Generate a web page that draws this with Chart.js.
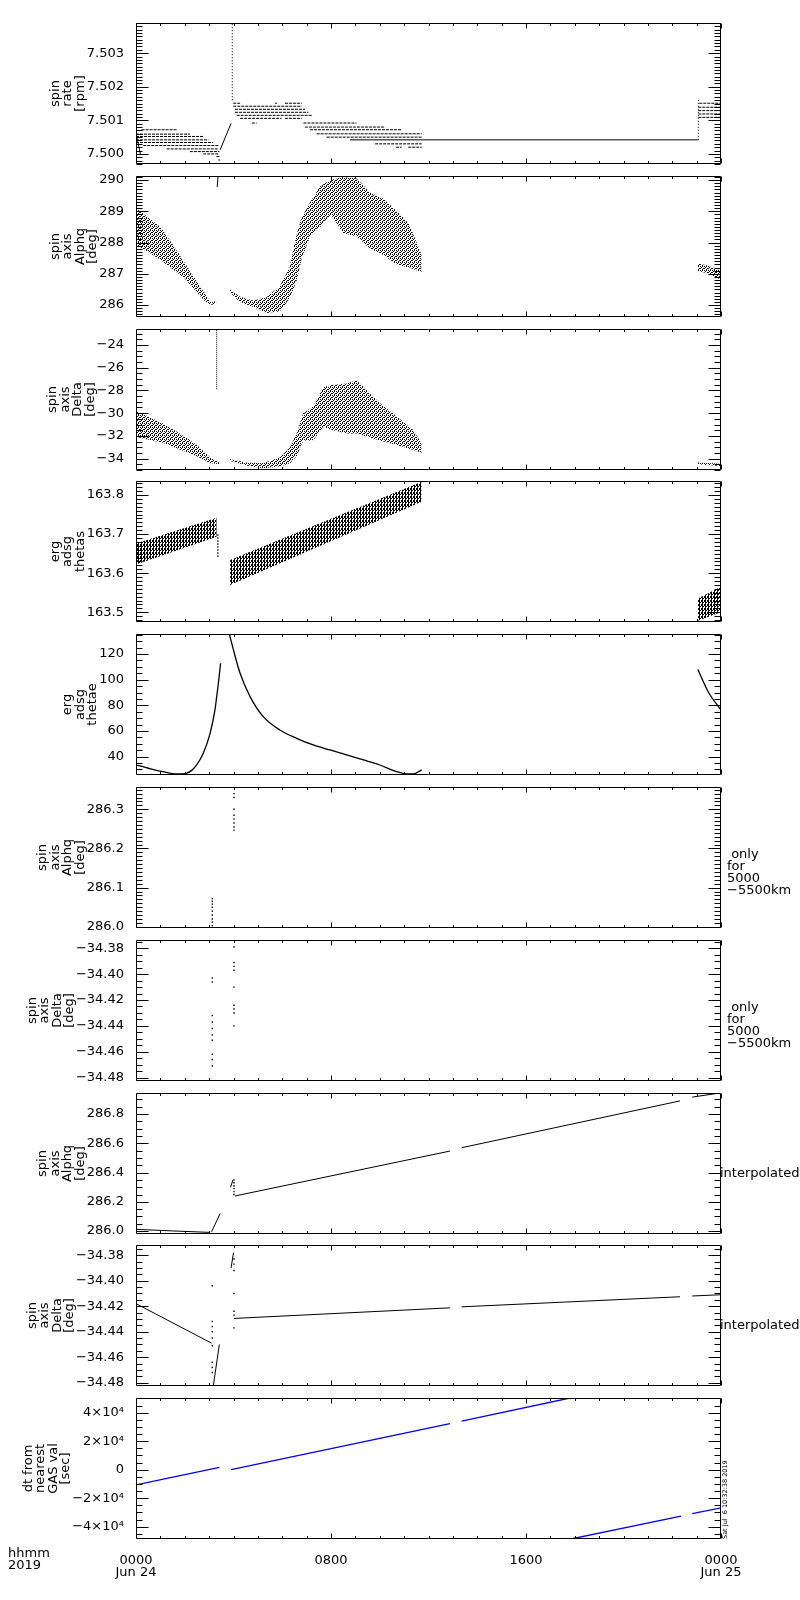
<!DOCTYPE html>
<html>
<head>
<meta charset="utf-8">
<script src="https://cdn.jsdelivr.net/npm/chart.js@4.4.0/dist/chart.umd.min.js"></script>
<style>
    html, body { margin: 0; padding: 0; background: #fff; }
    #page { position: relative; width: 800px; height: 1600px; overflow: hidden;
            font-family: "DejaVu Sans", sans-serif; color: #000; }
    #page canvas { position: absolute; left: 0; }
    .note { position: absolute; font-size: 13px; line-height: 12px; white-space: pre; }
    .stamp { position: absolute; font-size: 6.5px; line-height: 6px; white-space: pre;
             transform-origin: 0 0; transform: rotate(-90deg); }
</style>
</head>
<body>
<div id="page"></div>
<script>
/* ===========================
   TIME AXIS (hours from 0000 Jun 24 2019)
=========================== */

const hourTicks = [0, 8, 16, 24];
const hourLabels = [["0000", "Jun 24"], ["0800"], ["1600"], ["0000", "Jun 25"]];
const yearLabel = "hhmm\n2019";
const stampText = "Sat Jul  6 10:32:38 2019";

/* ===========================
   PANEL TITLES / Y TICKS
=========================== */

const panelTitles = [
    ["spin", "rate", "[rpm]"],
    ["spin", "axis", "Alphq", "[deg]"],
    ["spin", "axis", "Delta", "[deg]"],
    ["erg", "adsg", "thetas"],
    ["erg", "adsg", "thetae"],
    ["spin", "axis", "Alphq", "[deg]"],
    ["spin", "axis", "Delta", "[deg]"],
    ["spin", "axis", "Alphq", "[deg]"],
    ["spin", "axis", "Delta", "[deg]"],
    ["dt from", "nearest", "GAS val", "[sec]"]
];

const yRanges = [
    [7.4997, 7.5039], [285.62, 290.13], [-35.0, -22.6], [163.475, 163.836], [25.7, 135.6],
    [285.997, 286.357], [-34.4826, -34.3736], [285.98, 286.944], [-34.4826, -34.372], [-48600, 50300]
];

const yTicks = [
    [7.500, 7.501, 7.502, 7.503],
    [286, 287, 288, 289, 290],
    [-34, -32, -30, -28, -26, -24],
    [163.5, 163.6, 163.7, 163.8],
    [40, 60, 80, 100, 120],
    [286.0, 286.1, 286.2, 286.3],
    [-34.48, -34.46, -34.44, -34.42, -34.40, -34.38],
    [286.0, 286.2, 286.4, 286.6, 286.8],
    [-34.48, -34.46, -34.44, -34.42, -34.40, -34.38],
    [-40000, -20000, 0, 20000, 40000]
];

const yTickLabels = [
    ["7.500", "7.501", "7.502", "7.503"],
    ["286", "287", "288", "289", "290"],
    ["\u221234", "\u221232", "\u221230", "\u221228", "\u221226", "\u221224"],
    ["163.5", "163.6", "163.7", "163.8"],
    ["40", "60", "80", "100", "120"],
    ["286.0", "286.1", "286.2", "286.3"],
    ["\u221234.48", "\u221234.46", "\u221234.44", "\u221234.42", "\u221234.40", "\u221234.38"],
    ["286.0", "286.2", "286.4", "286.6", "286.8"],
    ["\u221234.48", "\u221234.46", "\u221234.44", "\u221234.42", "\u221234.40", "\u221234.38"],
    ["\u22124\u00d710\u2074", "\u22122\u00d710\u2074", "0", "2\u00d710\u2074", "4\u00d710\u2074"]
];

const yMinorStep = [0.0001, 0.1, 0.5, 0.01, 5, 0.01, 0.005, 0.05, 0.005, 5000];

const sideNotes = [null, null, null, null, null,
    " only\nfor\n5000\n\u22125500km", " only\nfor\n5000\n\u22125500km",
    "interpolated", "interpolated", null];

/* ===========================
   PANEL 1 - SPIN RATE [rpm]
=========================== */

// quantised levels: [value, t start, t end]
const rateLevels = [
    [7.50072, 0.23, 1.67], [7.50059, 0.00, 2.21], [7.50052, 0.00, 2.76], [7.50042, 0.00, 2.97],
    [7.50034, 0.00, 3.17], [7.50025, 0.30, 3.38], [7.50015, 1.26, 3.38], [7.50007, 2.21, 3.42],
    [7.50000, 2.76, 3.42], [7.49992, 3.30, 3.45], [7.49982, 3.38, 3.45],
    [7.50151, 3.99, 4.27], [7.50151, 5.70, 5.78], [7.50151, 6.11, 6.80],
    [7.50142, 3.99, 6.80], [7.50133, 4.06, 6.93], [7.50124, 4.06, 7.07],
    [7.50115, 4.13, 7.21], [7.50106, 4.27, 5.97], [7.50106, 6.11, 6.80],
    [7.50092, 4.75, 4.95], [7.50092, 6.87, 9.05], [7.50080, 6.93, 10.22],
    [7.50072, 7.14, 10.90], [7.50060, 7.41, 11.72], [7.50050, 7.82, 11.72],
    [7.50030, 9.81, 11.72], [7.50020, 10.67, 10.90], [7.50020, 11.17, 11.72],
    [7.50151, 23.11, 24.0], [7.50139, 23.07, 24.0], [7.50129, 23.07, 24.0],
    [7.50119, 23.07, 24.0], [7.50109, 23.07, 24.0]
];
const rateHold = [[8.78, 7.50042], [23.07, 7.50042]];
const rateRamp = [[3.45, 7.50012], [3.90, 7.50091]];
const rateStart = [[0.02, 7.50055], [0.18, 7.49999]];
const rateJumpUp = [[3.95, 7.50160], [3.95, 7.50390]];
const rateJumpEnd = [[23.07, 7.50042], [23.07, 7.50161]];

/* ===========================
   PANEL 2 - SPIN AXIS ALPHA [deg]   [t, low, high]
=========================== */

const alphaCloudA = [
    [0.0, 287.9, 289.1], [0.5, 287.7, 288.8], [1.0, 287.45, 288.5], [1.5, 287.15, 287.95],
    [2.0, 286.85, 287.35], [2.5, 286.4, 286.75], [2.8, 286.15, 286.4], [3.05, 286.0, 286.1],
    [3.3, 286.05, 286.12]
];
const alphaCloudB = [
    [3.86, 286.4, 286.5], [4.27, 286.1, 286.27], [4.8, 285.95, 286.15], [5.35, 285.75, 286.25],
    [5.9, 285.8, 286.6], [6.3, 286.2, 287.2], [6.6, 286.8, 288.3], [6.8, 287.5, 288.8],
    [7.15, 288.2, 289.3], [7.55, 288.5, 289.8], [8.0, 288.9, 290.0], [8.5, 288.3, 290.1],
    [9.05, 288.2, 290.05], [9.6, 287.8, 289.6], [10.15, 287.6, 289.4], [10.7, 287.3, 289.0],
    [11.2, 287.2, 288.6], [11.72, 287.05, 287.6]
];
const alphaCloudC = [[23.05, 287.1, 287.35], [23.5, 287.0, 287.25], [24.0, 286.8, 287.1]];
const alphaSpike = [[3.33, 289.78], [3.37, 290.13]];

/* ===========================
   PANEL 3 - SPIN AXIS DELTA [deg]
=========================== */

const deltaCloudA = [
    [0.0, -32.1, -29.8], [1.1, -32.6, -30.9], [1.8, -33.2, -31.8], [2.5, -33.8, -32.8],
    [3.05, -34.4, -33.9], [3.45, -34.48, -34.38]
];
const deltaCloudB = [
    [3.86, -34.2, -34.05], [4.54, -34.6, -34.35], [5.22, -34.85, -34.4], [5.9, -34.7, -33.9],
    [6.32, -34.4, -33.0], [6.59, -33.8, -31.8], [6.86, -32.4, -30.0], [7.27, -32.4, -29.4],
    [7.68, -31.2, -27.7], [8.09, -31.5, -27.5], [8.64, -31.8, -27.4], [9.05, -31.8, -27.1],
    [10.0, -32.4, -29.1], [10.7, -32.8, -30.3], [11.38, -33.25, -31.5], [11.72, -33.5, -32.7]
];
const deltaCloudC = [[23.05, -34.5, -34.35], [24.0, -34.65, -34.45]];
const deltaSpike = [[3.31, -27.9], [3.31, -22.6]];

/* ===========================
   PANEL 4 - ERG ADSG THETAS
=========================== */

const thetasBandA = [[0.0, 163.622, 163.676], [3.31, 163.693, 163.742]];
const thetasBandB = [[3.86, 163.570, 163.634], [11.72, 163.783, 163.834]];
const thetasBandC = [[23.05, 163.478, 163.535], [24.0, 163.500, 163.565]];
const thetasDrop = [[3.36, 163.700], [3.36, 163.640]];

/* ===========================
   PANEL 5 - ERG ADSG THETAE
=========================== */

const thetaeA = [
    [0.0, 33.5], [0.16, 32.8], [0.6, 30.5], [1.1, 28.3], [1.67, 26.5], [2.08, 27.2], [2.3, 29.5],
    [2.49, 33.5], [2.76, 42.7], [3.04, 58.2], [3.24, 76.4], [3.31, 86.8], [3.38, 97.2], [3.47, 112.8]
];
const thetaeB = [
    [3.83, 135.6], [4.0, 123.0], [4.27, 105.0], [4.68, 86.8], [5.22, 71.2], [5.9, 60.8],
    [6.59, 54.3], [7.27, 49.1], [7.96, 45.2], [8.64, 41.3], [9.33, 37.4], [10.0, 33.5],
    [10.7, 28.3], [11.1, 26.5], [11.38, 26.5], [11.72, 29.7]
];
const thetaeC = [[23.05, 107.9], [23.48, 90.4], [24.0, 76.3]];

/* ===========================
   PANELS 6/7 - ONLY FOR 5000-5500 km
=========================== */

const alphaNear = [
    [3.13, 286.003], [3.13, 286.012], [3.13, 286.020], [3.13, 286.030], [3.13, 286.040],
    [3.13, 286.050], [3.13, 286.058], [3.13, 286.065], [3.13, 286.072],
    [4.02, 286.247], [4.02, 286.255], [4.02, 286.265], [4.02, 286.275], [4.02, 286.285],
    [4.02, 286.300], [4.02, 286.330], [4.02, 286.340]
];
const deltaNear = [
    [3.13, -34.403], [3.13, -34.406], [3.13, -34.432], [3.13, -34.437], [3.13, -34.442],
    [3.13, -34.447], [3.13, -34.451], [3.13, -34.462], [3.13, -34.466], [3.13, -34.471],
    [4.02, -34.379], [4.02, -34.391], [4.02, -34.394], [4.02, -34.397], [4.02, -34.410],
    [4.02, -34.424], [4.02, -34.427], [4.02, -34.430], [4.02, -34.440]
];

/* ===========================
   PANELS 8/9 - INTERPOLATED
=========================== */

const alphaInterp = [
    [[0.0, 286.012], [1.5, 286.001], [3.04, 285.991]],
    [[3.10, 285.995], [3.45, 286.120]],
    [[3.88, 286.300], [3.98, 286.350]],
    [[4.06, 286.240], [12.88, 286.547]],
    [[13.36, 286.570], [22.32, 286.890]],
    [[22.82, 286.916], [24.0, 286.945]]
];
const alphaInterpDots = [[4.02, 286.35], [4.02, 286.33], [4.02, 286.31], [4.02, 286.29], [4.02, 286.27], [4.02, 286.25]];

const deltaInterp = [
    [[0.0, -34.418], [3.10, -34.449]],
    [[3.17, -34.4826], [3.42, -34.450]],
    [[3.90, -34.390], [4.00, -34.378]],
    [[4.02, -34.4296], [12.88, -34.4213]],
    [[13.36, -34.4205], [22.32, -34.4126]],
    [[22.82, -34.412], [24.0, -34.411]]
];
const deltaInterpDots = [
    [3.13, -34.404], [3.13, -34.432], [3.13, -34.436], [3.13, -34.440], [3.13, -34.445],
    [3.13, -34.451], [3.13, -34.464], [3.13, -34.468], [3.13, -34.472],
    [4.02, -34.383], [4.02, -34.387], [4.02, -34.392], [4.02, -34.410], [4.02, -34.424],
    [4.02, -34.427], [4.02, -34.437]
];

/* ===========================
   PANEL 10 - DT FROM NEAREST GAS VALUE [sec]
=========================== */

const dtSegments = [
    [[0.0, -10600], [3.42, 1700]],
    [[3.90, 0], [12.88, 32300]],
    [[13.36, 34000], [17.80, 50300]],
    [[17.85, -48600], [22.36, -32500]],
    [[22.82, -30800], [24.0, -26700]]
];

/* ===========================
   HELPERS
=========================== */

Chart.defaults.font.family = '"DejaVu Sans", sans-serif';
Chart.defaults.font.size = 13;
Chart.defaults.color = '#000';

const TITLE_LH = 12.5;

function pts(list) {
    return list.map(p => ({ x: p[0], y: p[1] }));
}

// several polylines in one dataset, split by null gaps
function joinSegs(segs) {
    const out = [];
    segs.forEach((s, i) => {
        if (i) out.push({ x: s[0][0], y: null });
        out.push(...pts(s));
    });
    return out;
}

function line(data, extra) {
    return Object.assign({
        data: data, borderColor: '#000', borderWidth: 1, pointRadius: 0,
        fill: false, tension: 0, spanGaps: false
    }, extra || {});
}

function dots(list) {
    return {
        data: pts(list), showLine: false, pointRadius: 1, pointStyle: 'rect',
        pointBackgroundColor: '#000', pointBorderColor: '#000', pointBorderWidth: 0
    };
}

function band(list, fillStyle) {
    return [
        { data: list.map(r => ({ x: r[0], y: r[1] })), borderColor: 'rgba(0,0,0,0)', borderWidth: 0, pointRadius: 0, fill: false },
        { data: list.map(r => ({ x: r[0], y: r[2] })), borderColor: 'rgba(0,0,0,0)', borderWidth: 0, pointRadius: 0, fill: '-1', backgroundColor: fillStyle }
    ];
}

function dotPattern(w, h, cells) {
    const c = document.createElement('canvas');
    c.width = w; c.height = h;
    const g = c.getContext('2d');
    g.fillStyle = '#000';
    cells.forEach(([x, y]) => g.fillRect(x, y, 1, 1));
    return g.createPattern(c, 'repeat');
}

const speckle = dotPattern(4, 4, [[0, 0], [2, 0], [1, 1], [3, 2], [0, 2], [2, 3]]);
const hatch = dotPattern(3, 4, [[0, 0], [0, 1], [0, 2], [0, 3], [2, 1], [2, 2], [1, 3]]);

const smooth = { borderWidth: 1.3, cubicInterpolationMode: 'monotone' };

/* ===========================
   DATASETS PER PANEL
=========================== */

const panelData = [
    [
        line(joinSegs(rateLevels.map(([v, t0, t1]) => [[t0, v], [t1, v]])), { borderDash: [3, 1] }),
        line(pts(rateHold)),
        line(pts(rateRamp)),
        line(pts(rateStart)),
        line(pts(rateJumpUp), { borderDash: [1, 2] }),
        line(pts(rateJumpEnd), { borderDash: [1, 2] })
    ],
    [...band(alphaCloudA, speckle), ...band(alphaCloudB, speckle), ...band(alphaCloudC, speckle), line(pts(alphaSpike))],
    [...band(deltaCloudA, speckle), ...band(deltaCloudB, speckle), ...band(deltaCloudC, speckle), line(pts(deltaSpike), { borderDash: [1, 1] })],
    [...band(thetasBandA, hatch), ...band(thetasBandB, hatch), ...band(thetasBandC, hatch), line(pts(thetasDrop), { borderDash: [2, 1] })],
    [line(pts(thetaeA), smooth), line(pts(thetaeB), smooth), line(pts(thetaeC), smooth)],
    [dots(alphaNear)],
    [dots(deltaNear)],
    [line(joinSegs(alphaInterp)), dots(alphaInterpDots)],
    [line(joinSegs(deltaInterp)), dots(deltaInterpDots)],
    [line(joinSegs(dtSegments), { borderColor: '#0000ff', borderWidth: 1.3 })]
];

/* ===========================
   FRAME WITH INWARD TICKS (IDL style)
=========================== */

const frameTicks = {
    id: 'frameTicks',
    afterDraw(chart, args, opts) {
        const { ctx, chartArea: a, scales } = chart;
        const xs = scales.x, ys = scales.y;
        const L = Math.round(a.left) + 0.5, R = Math.round(a.right) - 0.5;
        const T = Math.round(a.top) + 0.5, B = Math.round(a.bottom) - 0.5;
        ctx.save();
        ctx.strokeStyle = '#000';
        ctx.lineWidth = 1;
        ctx.setLineDash([]);
        ctx.beginPath();
        ctx.rect(L, T, R - L, B - T);
        for (let h = 0; h <= 24; h++) {
            const px = Math.round(xs.getPixelForValue(h)) + 0.5;
            const len = h % 8 === 0 ? 5 : 2.5;
            ctx.moveTo(px, T); ctx.lineTo(px, T + len);
            ctx.moveTo(px, B); ctx.lineTo(px, B - len);
        }
        const step = opts.step;
        for (let i = Math.ceil(ys.min / step - 1e-6); i * step <= ys.max + 1e-9; i++) {
            const v = i * step;
            const major = opts.major.some(m => Math.abs(m - v) < step / 10);
            const len = major ? 12 : 6;
            const py = Math.round(ys.getPixelForValue(v)) + 0.5;
            ctx.moveTo(L, py); ctx.lineTo(L + len, py);
            ctx.moveTo(R, py); ctx.lineTo(R - len, py);
        }
        ctx.stroke();
        ctx.restore();
    }
};

/* ===========================
   BUILD THE 10 PANELS
=========================== */

const page = document.getElementById('page');
const meas = document.createElement('canvas').getContext('2d');
meas.font = '13px "DejaVu Sans"';

// puts the multi-line y title just left of the tick labels
function titlePad(labels, lines) {
    const w = Math.max(...labels.map(s => meas.measureText(s).width));
    const labelLeft = 136 - 4 - w;
    return Math.max(0, labelLeft - 8 - lines * TITLE_LH);
}

panelData.forEach((datasets, k) => {
    const top = Math.round(23 + 152.8 * k);
    const last = k === panelData.length - 1;
    const canvas = document.createElement('canvas');
    const h = last ? 1600 - (top - 10) : 161;
    canvas.width = 800; canvas.height = h;
    canvas.style.width = '800px'; canvas.style.height = h + 'px';
    canvas.style.top = (top - 10) + 'px';
    page.appendChild(canvas);

    new Chart(canvas, {
        type: 'line',
        data: { datasets: datasets },
        options: {
            responsive: false,
            animation: false,
            events: [],
            devicePixelRatio: 1,
            layout: { padding: { left: 0, right: 79, top: 10, bottom: last ? 0 : 10 } },
            scales: {
                x: {
                    type: 'linear', min: 0, max: 24, display: last,
                    grid: { display: false }, border: { display: false },
                    afterBuildTicks: s => { s.ticks = hourTicks.map(v => ({ value: v })); },
                    afterFit: s => { s.height = last ? 61 : 0; s.paddingLeft = 0; s.paddingRight = 0; },
                    ticks: {
                        autoSkip: false, maxRotation: 0, padding: 8, color: '#000',
                        font: { size: 13, lineHeight: 12 / 13 },
                        callback: (v, i) => hourLabels[i]
                    }
                },
                y: {
                    type: 'linear', min: yRanges[k][0], max: yRanges[k][1],
                    grid: { display: false }, border: { display: false },
                    afterBuildTicks: s => { s.ticks = yTicks[k].map(v => ({ value: v })); },
                    afterFit: s => { s.width = 136; s.paddingTop = 0; s.paddingBottom = 0; },
                    ticks: {
                        autoSkip: false, padding: 4, color: '#000', font: { size: 13 },
                        callback: (v, i) => yTickLabels[k][i]
                    },
                    title: {
                        display: true, text: panelTitles[k], color: '#000',
                        font: { size: 13, lineHeight: TITLE_LH / 13 },
                        padding: { top: titlePad(yTickLabels[k], panelTitles[k].length), bottom: 0 }
                    }
                }
            },
            plugins: {
                legend: { display: false },
                tooltip: { enabled: false },
                frameTicks: { major: yTicks[k], step: yMinorStep[k] }
            }
        },
        plugins: [frameTicks]
    });

    // right-hand notes
    const note = sideNotes[k];
    if (note) {
        const centre = top + 70.5;
        const div = document.createElement('div');
        div.className = 'note';
        div.textContent = note;
        if (note === 'interpolated') {
            div.style.left = '720px';
            div.style.top = (centre + 3) + 'px';
        } else {
            div.style.left = '727px';
            div.style.top = (centre - 10) + 'px';
        }
        page.appendChild(div);
    }
});

/* ===========================
   CORNER TEXTS
=========================== */

const yearDiv = document.createElement('div');
yearDiv.className = 'note';
yearDiv.style.left = '8px';
yearDiv.style.top = '1547px';
yearDiv.textContent = yearLabel;
page.appendChild(yearDiv);

const stampDiv = document.createElement('div');
stampDiv.className = 'stamp';
stampDiv.style.left = '721.5px';
stampDiv.style.top = '1539px';
stampDiv.textContent = stampText;
page.appendChild(stampDiv);
</script>
</body>
</html>
